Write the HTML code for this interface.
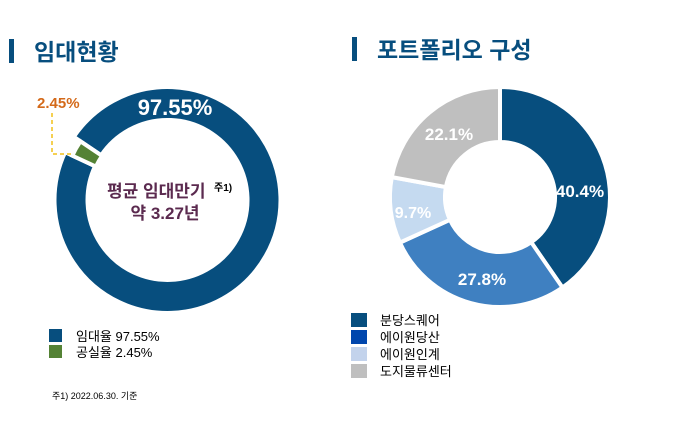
<!DOCTYPE html>
<html><head><meta charset="utf-8"><style>
body{margin:0;background:#fff;width:691px;height:418px;overflow:hidden;font-family:"Liberation Sans","Noto Sans CJK KR",sans-serif}
svg text{font-family:"Liberation Sans","Noto Sans CJK KR",sans-serif}
</style></head><body>
<svg id="s" width="691" height="418" xmlns="http://www.w3.org/2000/svg">
<rect x="9" y="39" width="5" height="24" fill="#074e7e"/>
<text x="34" y="60" font-size="23" font-weight="bold" fill="#074e7e">임대현황</text>
<rect x="352" y="37" width="5" height="24" fill="#074e7e"/>
<text x="377" y="58" font-size="23" font-weight="bold" fill="#074e7e">포트폴리오 구성</text>
<g id="L"></g><g id="R"></g>
<polyline points="52,113 52,154 74,154" fill="none" stroke="#f2c018" stroke-width="1.5" stroke-dasharray="4,3"/>
<text x="37" y="108" font-size="15" font-weight="bold" fill="#d46a1a">2.45%</text>
<text x="175" y="115" font-size="22" font-weight="bold" fill="#fff" text-anchor="middle">97.55%</text>
<text x="107" y="197" font-size="17" font-weight="bold" fill="#5b2a4f">평균 임대만기</text>
<text x="214" y="191" font-size="10" font-weight="bold" fill="#000">주1)</text>
<text x="165" y="219" font-size="17" font-weight="bold" fill="#5b2a4f" text-anchor="middle">약 3.27년</text>
<text x="580" y="197" font-size="17" font-weight="bold" fill="#fff" text-anchor="middle">40.4%</text>
<text x="482" y="285" font-size="17" font-weight="bold" fill="#fff" text-anchor="middle">27.8%</text>
<text x="413" y="218" font-size="16" font-weight="bold" fill="#fff" text-anchor="middle">9.7%</text>
<text x="449" y="140" font-size="17" font-weight="bold" fill="#fff" text-anchor="middle">22.1%</text>
<rect x="49" y="329" width="13" height="13" fill="#074e7e"/>
<text x="76" y="341" font-size="13" fill="#000">임대율 97.55%</text>
<rect x="49" y="345" width="13" height="13" fill="#548235"/>
<text x="76" y="357" font-size="13" fill="#000">공실율   2.45%</text>
<text x="52" y="399" font-size="9" fill="#000">주1) 2022.06.30. 기준</text>
<rect x="351" y="313" width="16" height="14" fill="#074e7e"/>
<text x="380" y="325" font-size="13" fill="#000">분당스퀘어</text>
<rect x="351" y="330" width="16" height="14" fill="#0046ad"/>
<text x="380" y="342" font-size="13" fill="#000">에이원당산</text>
<rect x="351" y="347" width="16" height="14" fill="#c3d3ec"/>
<text x="380" y="359" font-size="13" fill="#000">에이원인계</text>
<rect x="351" y="364" width="16" height="14" fill="#bfbfbf"/>
<text x="380" y="376" font-size="13" fill="#000">도지물류센터</text>
</svg>
<script>
function arc(cx,cy,R,r,a0,a1){function p(rad,a){a=(a-90)*Math.PI/180;return (cx+rad*Math.cos(a)).toFixed(2)+","+(cy+rad*Math.sin(a)).toFixed(2)}
var l=(a1-a0)>180?1:0;return "M"+p(R,a0)+"A"+R+","+R+" 0 "+l+" 1 "+p(R,a1)+"L"+p(r,a1)+"A"+r+","+r+" 0 "+l+" 0 "+p(r,a0)+"Z";}
function add(g,d,f){var e=document.createElementNS("http://www.w3.org/2000/svg","path");e.setAttribute("d",d);e.setAttribute("fill",f);e.setAttribute("stroke","#fff");e.setAttribute("stroke-width","4");document.getElementById(g).appendChild(e);}
var L=document.getElementById("L");
add("L",arc(167.5,200,113,80,304,655),"#074e7e");
add("L",arc(167.5,200,105,79,295,304),"#548235");
add("R",arc(500,197,110,55,0,145.4),"#074e7e");
add("R",arc(500,197,110,55,145.4,245.5),"#3f80c1");
add("R",arc(500,197,110,55,245.5,280.4),"#c5daf0");
add("R",arc(500,197,110,55,280.4,360),"#bfbfbf");
var s=document.getElementById("s");var g=document.getElementById("R");s.insertBefore(L,s.querySelector("polyline"));
</script>
</body></html>
